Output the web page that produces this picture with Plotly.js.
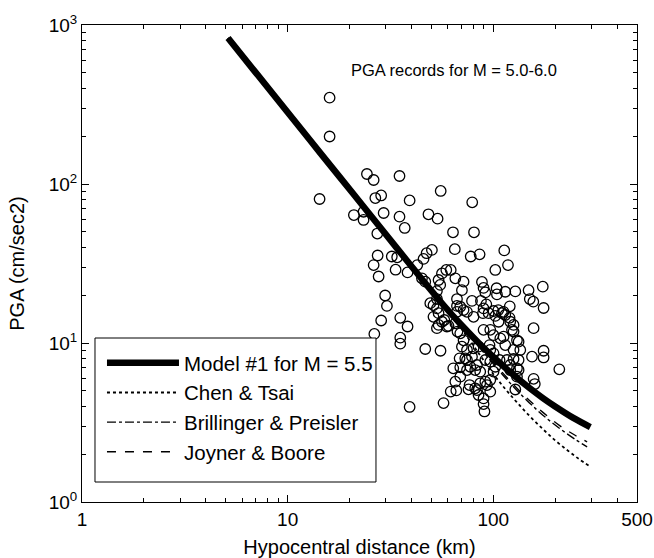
<!DOCTYPE html>
<html>
<head>
<meta charset="utf-8">
<script src="https://cdn.plot.ly/plotly-3.0.1.min.js"></script>
<style>html,body{margin:0;padding:0;background:#fff;}#chart{width:654px;height:558px;}</style>
</head>
<body>
<div id="chart"></div>
<script>
// PGA records (hypocentral distance km, PGA cm/sec2)
const recDist = [16.0,16.0,14.3,24.3,26.2,35.0,55.5,79.0,26.7,28.5,
39.2,21.0,23.4,23.4,29.3,35.0,48.4,53.6,37.1,63.7,
80.6,27.3,65.0,27.4,26.2,32.1,34.1,33.5,38.3,47.4,
50.3,45.8,42.7,27.7,77.7,85.8,113.1,102.3,117.9,59.1,
62.1,56.3,65.4,45.0,46.7,54.2,55.2,53.2,70.4,71.7,
29.8,30.4,51.2,66.6,66.6,88.1,89.7,91.5,103.8,104.2,
114.4,128.0,148.5,150.5,156.6,174.1,175.7,78.8,87.1,92.5,
120.3,105.8,28.5,26.4,35.3,38.3,35.3,35.3,39.2,46.7,
55.4,57.3,63.9,62.1,66.1,69.1,74.5,75.8,83.3,89.7,
89.7,90.6,93.2,96.7,74.5,49.4,53.2,54.2,66.6,57.8,
60.6,65.4,67.0,70.4,74.5,80.2,68.6,74.5,78.8,83.3,
86.4,89.1,94.9,102.3,110.2,106.1,114.4,120.9,125.5,123.3,
100.3,108.2,95.9,114.4,132.8,135.3,125.5,157.1,154.3,175.7,
175.7,209.5,130.4,130.4,157.1,159.2,128.0,116.6,120.9,107.3,
102.3,100.3,91.5,86.4,81.7,96.7,76.7,71.7,73.1,91.5,
81.7,71.7,80.2,89.7,100.3,59.5,53.2,56.3,51.2,53.2,
54.2,69.1,65.4,69.1,96.7,96.7,100.3,84.8,69.1,130.4,
132.8,125.5,132.8,120.9,89.7,96.7,112.2,120.0,112.2,125.5,
77.3,84.8];
const recPGA = [349,199,80.5,115.6,106,112.3,90.4,76.7,81.6,84.7,
78.8,63.8,66.9,59.4,65.7,62.3,64.5,60.5,52.9,49.7,
49.7,48.8,38.9,35.5,30.9,35.0,34.6,28.9,27.8,36.7,
38.5,33.8,30.9,26.2,35.0,36.1,38.2,28.8,30.9,28.8,
28.8,27.4,25.5,25.5,24.3,24.9,23.2,21.2,21.5,24.3,
19.9,17.1,17.3,18.9,17.1,24.2,22.2,20.8,22.1,20.2,
21.0,21.1,21.5,18.9,18.2,22.6,16.6,18.4,18.4,17.5,
17.0,16.1,13.85,11.4,14.4,12.7,10.8,9.9,3.96,9.17,
8.94,4.19,6.93,4.95,5.03,7.03,6.76,5.11,5.06,4.48,
4.13,3.71,5.44,5.85,15.7,17.8,18.9,15.4,15.7,13.95,
12.8,13.3,11.8,9.48,9.04,9.26,8.01,7.82,8.2,7.27,
6.60,15.4,15.4,14.8,15.4,13.6,15.0,13.6,13.0,12.1,
11.2,10.7,9.7,9.7,10.2,9.04,9.04,12.4,8.2,8.11,
8.94,6.83,6.93,6.14,5.95,5.52,5.10,7.82,7.27,7.82,
7.09,6.60,5.71,5.58,5.19,4.94,5.44,10.4,8.01,7.82,
6.76,16.1,14.6,16.5,15.9,12.7,12.4,13.6,14.6,16.5,
13.0,16.9,5.71,6.14,7.63,9.04,8.61,9.48,11.5,10.4,
7.82,7.93,6.76,6.76,12.1,12.1,15.7,14.4,10.96,11.8,
7.09,4.71];

// Model #1 for M = 5.5
const modelDist = [5.13,7,10,14.4,20.8,30,44.1,57.1,69.1,85,100,125,150,175,200,245,296.5];
const modelPGA  = [828,502,283,157,87.1,48.3,26.0,17.4,13.2,10.0,8.17,6.31,5.21,4.49,3.99,3.38,2.96];
// Chen & Tsai
const chenDist = [5.13,7,10,14.4,20.8,30,44.1,57.1,69.1,85,100,115,130,150,175,200,230,260,294];
const chenPGA  = [828,502,283,157,87.1,48.3,26.0,17.4,12.6,8.6,6.38,5.10,4.25,3.48,2.86,2.44,2.11,1.87,1.68];
// Brillinger & Preisler
const brilDist = [5.13,7,10,14.4,20.8,30,44.1,57.1,69.1,85,100,115,130,150,175,212,250,286];
const brilPGA  = [828,502,283,157,87.1,48.3,26.0,17.4,13.0,9.5,7.4,6.0,5.05,4.2,3.5,2.88,2.48,2.22];
// Joyner & Boore
const joyDist = [5.13,7,10,14.4,20.8,30,44.1,57.1,69.1,85,100,115,130,150,175,212,250,286];
const joyPGA  = [828,502,283,157,87.1,48.3,26.0,17.4,13.1,9.7,7.6,6.17,5.21,4.35,3.65,3.00,2.63,2.39];

const xTickVals = [1,10,100,500];
const xTickText = ['1','10','100','500'];
const xMinor = [2,3,4,5,6,7,8,9,20,30,40,50,60,70,80,90,200,300,400];
const yTickVals = [1,10,100,1000];
const yTickText = ['10<sup>0</sup>','10<sup>1</sup>','10<sup>2</sup>','10<sup>3</sup>'];
const yMinor = [2,3,4,5,6,7,8,9,20,30,40,50,60,70,80,90,200,300,400,500,600,700,800,900];

const FONT = 'Liberation Sans, Arial, Helvetica, sans-serif';

const traces = [
  {x: recDist, y: recPGA, type: 'scatter', mode: 'markers', showlegend: false,
   marker: {symbol: 'circle-open', size: 10.5, color: '#000', line: {width: 1.3, color: '#000'}}},
  {x: chenDist, y: chenPGA, type: 'scatter', mode: 'lines', name: 'Chen &amp; Tsai', legendrank: 2,
   legendgroup: 'b', line: {color: '#000', width: 1.8, dash: 'dot', shape: 'spline'}},
  {x: brilDist, y: brilPGA, type: 'scatter', mode: 'lines', name: 'Brillinger &amp; Preisler', legendrank: 3,
   legendgroup: 'c', line: {color: '#000', width: 1.4, dash: 'dashdot', shape: 'spline'}},
  {x: joyDist, y: joyPGA, type: 'scatter', mode: 'lines', name: 'Joyner &amp; Boore', legendrank: 4,
   legendgroup: 'd', line: {color: '#000', width: 1.4, dash: 'dash', shape: 'spline'}},
  {x: modelDist, y: modelPGA, type: 'scatter', mode: 'lines', name: 'Model #1 for M = 5.5', legendrank: 1,
   legendgroup: 'a', line: {color: '#000', width: 6.5, shape: 'spline'}}
];

const axisCommon = {
  type: 'log', showgrid: false, zeroline: false, showline: true, linecolor: '#000', linewidth: 1,
  mirror: 'ticks', ticks: 'inside', ticklen: 7, tickwidth: 1, tickcolor: '#000',
  tickfont: {family: FONT, size: 19, color: '#000'}, automargin: false
};

const layout = {
  width: 654, height: 558,
  margin: {l: 82, r: 17, t: 25, b: 56},
  paper_bgcolor: '#fff', plot_bgcolor: '#fff',
  font: {family: FONT, color: '#000'},
  showlegend: true,
  xaxis: Object.assign({}, axisCommon, {
    range: [0, Math.log10(500)], tickmode: 'array', tickvals: xTickVals, ticktext: xTickText,
    minor: {tickmode: 'array', tickvals: xMinor, ticks: 'inside', ticklen: 4, tickcolor: '#000', showgrid: false},
    title: {text: 'Hypocentral distance (km)', font: {family: FONT, size: 20, color: '#000'}, standoff: 11}
  }),
  yaxis: Object.assign({}, axisCommon, {
    range: [0, 3], tickmode: 'array', tickvals: yTickVals, ticktext: yTickText,
    minor: {tickmode: 'array', tickvals: yMinor, ticks: 'inside', ticklen: 4, tickcolor: '#000', showgrid: false},
    title: {text: 'PGA (cm/sec2)', font: {family: FONT, size: 20, color: '#000'}, standoff: 18}
  }),
  // legend frame (paper coordinates)
  shapes: [{
    type: 'rect', xref: 'paper', yref: 'paper', x0: 0.0234, x1: 0.5297, y0: 0.0419, y1: 0.3438,
    line: {color: '#000', width: 1}, fillcolor: '#fff', layer: 'above'
  }],
  legend: {
    x: 0.036, y: 0.3333, xanchor: 'left', yanchor: 'top',
    bgcolor: 'rgba(0,0,0,0)', borderwidth: 0,
    font: {family: FONT, size: 20.5, color: '#000'},
    tracegroupgap: 9, itemwidth: 72, traceorder: 'normal'
  },
  annotations: [{
    text: 'PGA records for M = 5.0-6.0', xref: 'paper', yref: 'paper',
    x: 0.67, y: 0.906, xanchor: 'center', yanchor: 'middle', showarrow: false,
    font: {family: FONT, size: 16.5, color: '#000'}
  }]
};

Plotly.newPlot('chart', traces, layout, {displayModeBar: false, staticPlot: true});
</script>
</body>
</html>
